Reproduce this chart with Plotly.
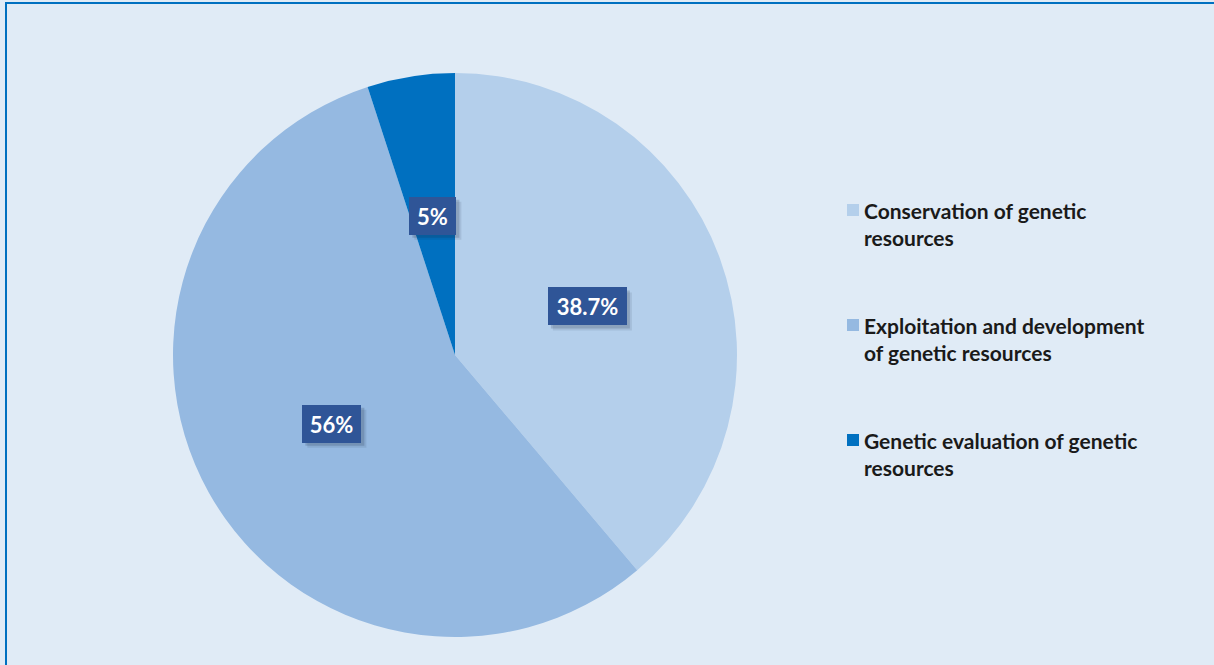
import math
import plotly.graph_objects as go

# Data
categories = [
    "Conservation of genetic resources",
    "Exploitation and development of genetic resources",
    "Genetic evaluation of genetic resources",
]
legend_lines = [
    ["Conservation of genetic", "resources"],
    ["Exploitation and development", "of genetic resources"],
    ["Genetic evaluation of genetic", "resources"],
]
shares = [38.7, 56, 5]
colors = ["#B4CFEB", "#95B9E1", "#0070C0"]

# Canvas and pie geometry (pixels)
W, H = 1214, 665
CX, CY, R = 455, 355, 282
dom_x = [(CX - R) / W, (CX + R) / W]
dom_y = [(H - CY - R) / H, (H - CY + R) / H]

BG = "#E0EBF6"
LABEL_BG = "#2F5597"
FONT = "Lato"
LABEL_SIZE = 22

fig = go.Figure(
    go.Pie(
        labels=categories,
        values=shares,
        sort=False,
        direction="clockwise",
        rotation=0,
        marker=dict(colors=colors, line=dict(width=0)),
        textinfo="none",
        hoverinfo="label+value",
        showlegend=False,
        domain=dict(x=dom_x, y=dom_y),
    )
)

annotations = []
shapes = []


def text_width(s):
    """Approximate pixel width of a bold label string."""
    widths = {".": 8, "%": 19}
    return sum(widths.get(ch, 12) for ch in s)


# Percentage labels: boxed, placed at half radius on each slice's mid-angle
PAD = 7
total = sum(shares)
cum = 0.0
for v in shares:
    theta = 2 * math.pi * (cum + v / 2) / total
    cum += v
    px = CX + 0.5 * R * math.sin(theta)
    py = (H - CY) + 0.5 * R * math.cos(theta)
    label = f"{v:g}%"
    tw, th = text_width(label), LABEL_SIZE
    bw, bh = tw + 2 * PAD + 2, th + 2 * PAD + 2
    # soft drop shadow behind the box
    for off, alpha in ((5, 0.10), (3, 0.18)):
        shapes.append(dict(
            type="rect", xref="paper", yref="paper",
            x0=(px - bw / 2 + off) / W, x1=(px + bw / 2 + off) / W,
            y0=(py - bh / 2 - off) / H, y1=(py + bh / 2 - off) / H,
            fillcolor=f"rgba(30,40,60,{alpha})", line=dict(width=0),
        ))
    annotations.append(dict(
        x=px / W, y=py / H, xref="paper", yref="paper",
        xanchor="center", yanchor="middle",
        text=f"<b>{label}</b>", showarrow=False,
        width=tw, height=th, borderpad=PAD, borderwidth=1,
        bordercolor=LABEL_BG, bgcolor=LABEL_BG,
        font=dict(family=FONT, size=LABEL_SIZE, color="white"),
    ))

# Legend: colour swatch plus two bold text lines per category
LEG_X = 862
SW = 12
first_line_y = [210, 325, 440]
LINE_GAP = 27
for color, lines, ly in zip(colors, legend_lines, first_line_y):
    shapes.append(dict(
        type="rect", xref="paper", yref="paper",
        x0=(LEG_X - 15) / W, x1=(LEG_X - 15 + SW) / W,
        y0=(H - ly - SW / 2) / H, y1=(H - ly + SW / 2) / H,
        fillcolor=color, line=dict(width=0),
    ))
    for i, line in enumerate(lines):
        annotations.append(dict(
            x=LEG_X / W, y=(H - ly - i * LINE_GAP) / H,
            xref="paper", yref="paper", xanchor="left", yanchor="middle",
            text=f"<b>{line}</b>", showarrow=False,
            font=dict(family=FONT, size=21, color="#1A1A1A"),
        ))

# Chart frame
shapes.append(dict(
    type="rect", xref="paper", yref="paper",
    x0=6 / W, x1=1.05, y0=-0.05, y1=1 - 3 / H,
    line=dict(color="#0070C0", width=2), fillcolor="rgba(0,0,0,0)",
    layer="above",
))

fig.update_layout(
    width=W, height=H,
    margin=dict(l=0, r=0, t=0, b=0),
    paper_bgcolor=BG,
    plot_bgcolor=BG,
    annotations=annotations,
    shapes=shapes,
    font=dict(family=FONT),
)

fig.write_html("out.html", config={"displayModeBar": False})
